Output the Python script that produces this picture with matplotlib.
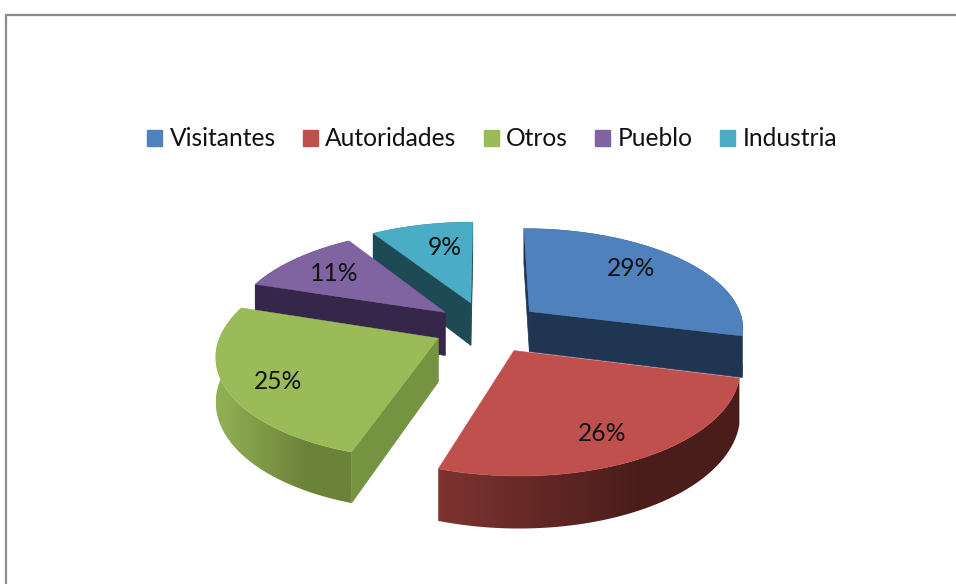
''' Exploded 3D pie chart, drawn with a small perspective projection '''
import matplotlib
matplotlib.use('Agg')
import matplotlib.pyplot as plt
import numpy as np
from matplotlib.colors import to_rgb
from matplotlib.patches import Patch, Polygon

categories = ['Visitantes', 'Autoridades', 'Otros', 'Pueblo', 'Industria']
percent = [29, 26, 25, 11, 9]

top_colors = ['#4f81bd', '#c0504d', '#9bbb59', '#8064a2', '#4bacc6']
side_colors = ['#1f3552', '#4a1d1b', '#769341', '#35264a', '#1e4a56']
rim_left = ['#1f3552', '#7d3330', '#93b254', '#35264a', '#1e4a56']
rim_right = ['#1f3552', '#4a1d1b', '#6b8239', '#35264a', '#1e4a56']
draw_order = [4, 3, 0, 2, 1]

# geometry of the projection, in pixels
center_x, center_y = 486, 327
radius_x, radius_y = 234, 108
perspective = 0.16
explode = [0.24, 0.24, 0.225, 0.225, 0.24]
heights = [41, 43, 43, 44, 44]
slice_radius = 0.92
label_radius = 0.62
label_dx = [-2, 6, -20, -7, 8]
label_dy = [-6, 14, 10, -2, -1]

plt.rcParams['font.family'] = ['Lato', 'DejaVu Sans']


def project(u, v, drop=0.0):
    ''' Plane coordinates (v goes away from the viewer) to figure pixels '''
    w = 1 + perspective*np.asarray(v)
    return center_x + radius_x*np.asarray(u)/w, center_y - (radius_y*np.asarray(v) - drop)/w


def is_front(xs, ys):
    ''' A wall faces the viewer if its screen outline winds the right way '''
    return 0.5*np.sum(xs*np.roll(ys, -1) - np.roll(xs, -1)*ys) < 0


def radial_wall(ax, u_a, v_a, u_b, v_b, height, color, zorder):
    xa, ya = project(u_a, v_a)
    xb, yb = project(u_b, v_b)
    xc, yc = project(u_b, v_b, height)
    xd, yd = project(u_a, v_a, height)
    xs, ys = np.array([xa, xb, xc, xd]), np.array([ya, yb, yc, yd])
    if is_front(xs, ys):
        ax.add_patch(Polygon(np.column_stack([xs, ys]), closed=True, zorder=zorder,
                             facecolor=color, edgecolor=color, lw=0.5))


def draw_slice(ax, index, start, stop, layer):
    mid = 0.5*(start + stop)
    du, dv = explode[index]*np.sin(mid), explode[index]*np.cos(mid)
    angles = np.linspace(start, stop, 80)
    us, vs = du + slice_radius*np.sin(angles), dv + slice_radius*np.cos(angles)
    height = heights[index]

    # outer wall: a colour ramp clipped to the band under the arc
    xs, ys = project(us, vs)
    xs_low, ys_low = project(us, vs, height)
    low, high = xs.min(), xs.max()
    ramp = np.clip(np.linspace(0, 1.5, 256), 0, 1)[None, :, None]
    left, right = np.array(to_rgb(rim_left[index])), np.array(to_rgb(rim_right[index]))
    image = ax.imshow(left + (right - left)*ramp, extent=(low, high, ys_low.max(), ys.min()),
                      aspect='auto', interpolation='bilinear', zorder=layer)
    band = Polygon(np.column_stack([np.r_[xs, xs_low[::-1]], np.r_[ys, ys_low[::-1]]]),
                   closed=True, transform=ax.transData)
    image.set_clip_path(band)

    radial_wall(ax, du, dv, us[0], vs[0], height, side_colors[index], layer + 0.1)
    radial_wall(ax, us[-1], vs[-1], du, dv, height, side_colors[index], layer + 0.1)

    px, py = project(np.r_[du, us], np.r_[dv, vs])
    ax.add_patch(Polygon(np.column_stack([px, py]), closed=True, zorder=layer + 0.2,
                         facecolor=top_colors[index], edgecolor=top_colors[index], lw=0.3))


def main():
    fig = plt.figure(figsize=(9.56, 5.84), dpi=100)
    ax = fig.add_axes([0, 0, 1, 1])
    ax.axis('off')

    # chart frame, runs off the right and bottom of the picture
    ax.plot([6, 6, 956], [584, 15, 15], color='#8c8c8c', lw=1.6, solid_joinstyle='miter')

    edges = np.r_[0, np.cumsum(percent)]/np.sum(percent)*2*np.pi
    for layer, index in enumerate(draw_order):
        draw_slice(ax, index, edges[index], edges[index + 1], layer + 1)

    for index, value in enumerate(percent):
        mid = 0.5*(edges[index] + edges[index + 1])
        reach = explode[index] + label_radius
        x, y = project(reach*np.sin(mid), reach*np.cos(mid))
        ax.text(x + label_dx[index], y + label_dy[index], f'{value}%', ha='center', va='center',
                fontsize=17.7, color='#111111', zorder=10)

    handles = [Patch(facecolor=c, edgecolor=c, label=n) for c, n in zip(top_colors, categories)]
    ax.legend(handles=handles, ncol=5, frameon=False, fontsize=17.7, loc='center',
              bbox_to_anchor=(492, 139), bbox_transform=ax.transData,
              handlelength=0.62, handleheight=0.62, handletextpad=0.3, columnspacing=1.1,
              labelcolor='#111111')

    # imshow changes the limits, so set them last
    ax.set_xlim(0, 956)
    ax.set_ylim(584, 0)
    fig.savefig('out.png', dpi=100)


if __name__ == '__main__':
    main()
